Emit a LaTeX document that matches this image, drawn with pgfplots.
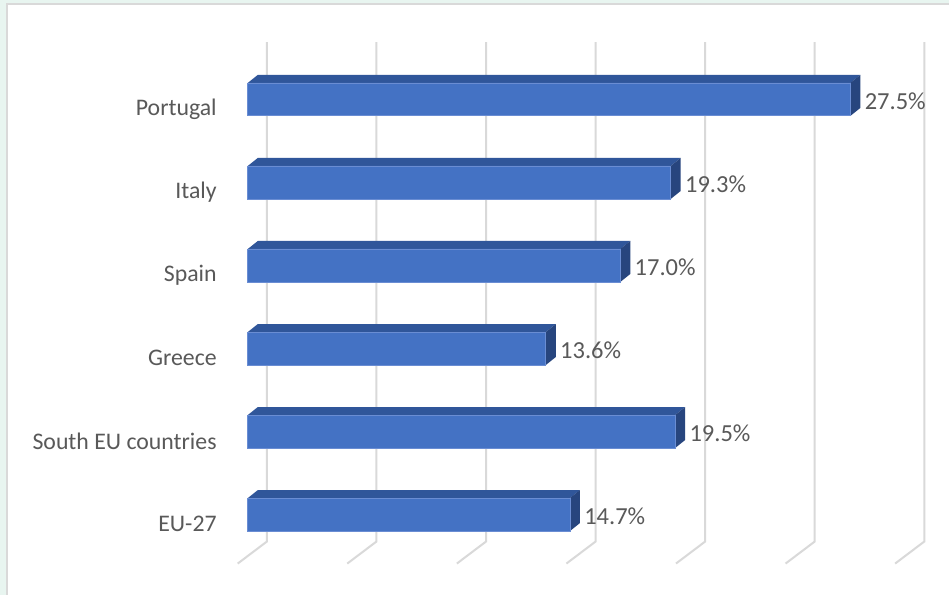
\documentclass[border=0pt]{standalone}
\usepackage{fontspec}
\setmainfont{Carlito}
\usepackage{pgfplots}
\pgfplotsset{compat=1.18}

\definecolor{barfront}{HTML}{4472C4}
\definecolor{baredge}{HTML}{6A8DD3}
\definecolor{bartop}{HTML}{30569A}
\definecolor{barside}{HTML}{27457E}
\definecolor{gridgray}{HTML}{D9D9D9}
\definecolor{textgray}{HTML}{595959}
\definecolor{mint}{HTML}{E8F5F0}

% 3D offsets (x in %, y in category units) and half bar height
\def\dx{0.456}
\def\dy{0.0963}
\def\hh{0.1986}

% top and side faces of one bar: #1 = category position, #2 = value
\newcommand{\barfaces}[2]{%
  \pgfmathsetmacro{\ylo}{#1-\hh}%
  \pgfmathsetmacro{\yhi}{#1+\hh}%
  \pgfmathsetmacro{\ylod}{#1-\hh+\dy}%
  \pgfmathsetmacro{\yhid}{#1+\hh+\dy}%
  \pgfmathsetmacro{\xend}{#2+\dx}%
  \edef\tmp{%
    \noexpand\addplot[fill=bartop, draw=none] coordinates {(0,\yhi) (#2,\yhi) (\xend,\yhid) (\dx,\yhid)} -- cycle;
    \noexpand\addplot[fill=barside, draw=none] coordinates {(#2,\ylo) (#2,\yhi) (\xend,\yhid) (\xend,\ylod)} -- cycle;
  }%
  \tmp
}

\begin{document}
\begin{tikzpicture}
  % chart frame
  \fill[mint] (-230pt,0pt) rectangle (720pt,595pt);
  \fill[white] (-223pt,0pt) rectangle (720pt,591pt);
  \draw[gridgray, line width=1.5pt] (-223pt,0pt) -- (-223pt,591pt) -- (720pt,591pt);

  \begin{axis}[
    scale only axis,
    width=720pt, height=595pt,
    xmin=-0.821, xmax=32.01,
    ymin=-0.963, ymax=6.197,
    axis line style={draw=none},
    major tick length=0pt,
    xtick=\empty,
    ytick={0,1,2,3,4,5},
    yticklabels={EU-27, South EU countries, Greece, Spain, Italy, Portugal},
    yticklabel style={anchor=east, inner sep=0pt, xshift=-13pt, yshift=-9.5pt,
      font=\fontsize{23.8}{28}\selectfont, text=textgray},
    /pgf/number format/assume math mode=true,
    clip=false,
  ]
    % gridlines: back wall, then slanted floor
    \addplot[gridgray, line width=2pt] coordinates {(0.87,5.69) (0.87,-0.325) (-0.46,-0.59)};
    \addplot[gridgray, line width=2pt] coordinates {(5.87,5.69) (5.87,-0.325) (4.54,-0.59)};
    \addplot[gridgray, line width=2pt] coordinates {(10.87,5.69) (10.87,-0.325) (9.54,-0.59)};
    \addplot[gridgray, line width=2pt] coordinates {(15.87,5.69) (15.87,-0.325) (14.54,-0.59)};
    \addplot[gridgray, line width=2pt] coordinates {(20.87,5.69) (20.87,-0.325) (19.54,-0.59)};
    \addplot[gridgray, line width=2pt] coordinates {(25.87,5.69) (25.87,-0.325) (24.54,-0.59)};
    \addplot[gridgray, line width=2pt] coordinates {(30.87,5.69) (30.87,-0.325) (29.54,-0.59)};

    \barfaces{0}{14.7}
    \barfaces{1}{19.5}
    \barfaces{2}{13.6}
    \barfaces{3}{17.0}
    \barfaces{4}{19.3}
    \barfaces{5}{27.5}

    \addplot[xbar, bar width=0.397, fill=barfront, draw=baredge, line width=0.8pt,
      point meta=x,
      nodes near coords={\pgfmathprintnumber[fixed,precision=1,zerofill]{\pgfplotspointmeta}\%},
      nodes near coords style={anchor=west, xshift=12pt, yshift=-1.5pt, inner sep=2pt,
        font=\fontsize{24.5}{29}\selectfont, text=textgray}]
      coordinates {(14.7,0) (19.5,1) (13.6,2) (17.0,3) (19.3,4) (27.5,5)};
  \end{axis}
\end{tikzpicture}
\end{document}
